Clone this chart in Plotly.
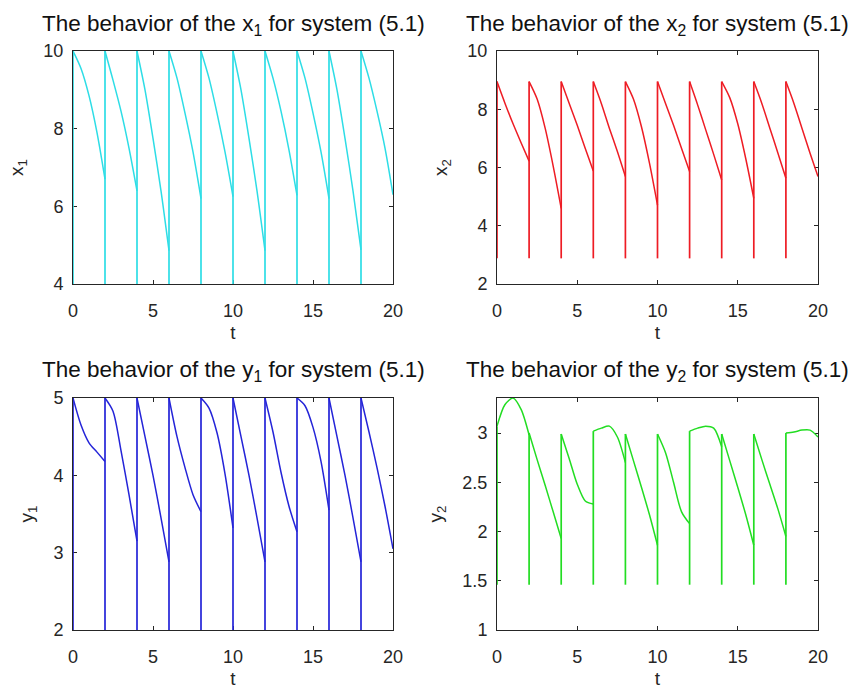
import plotly.graph_objects as go
from plotly.subplots import make_subplots

# ---- data ----
impulse_t = [0, 2, 4, 6, 8, 10, 12, 14, 16, 18]
phase = [0.0, 0.5, 1.0, 1.5, 2.0]

x_ticks = [0, 5, 10, 15, 20]

x1_low = 4.0
x1_seg = [
    [10, 9.55, 8.85, 7.9, 6.7],
    [10, 9.25, 8.45, 7.5, 6.4],
    [10, 9.0, 7.75, 6.4, 4.86],
    [10, 9.3, 8.4, 7.4, 6.2],
    [10, 9.3, 8.4, 7.4, 6.25],
    [10, 9.0, 7.75, 6.4, 4.86],
    [10, 9.3, 8.45, 7.45, 6.28],
    [10, 9.3, 8.4, 7.4, 6.2],
    [10, 9.0, 7.75, 6.4, 4.88],
    [10, 9.3, 8.45, 7.5, 6.3],
]

x2_low = 2.88
x2_seg = [
    [8.95, 8.2, 7.5, 6.85, 6.22],
    [8.95, 8.35, 7.35, 6.05, 4.6],
    [8.95, 8.2, 7.45, 6.65, 5.88],
    [8.95, 8.2, 7.35, 6.55, 5.69],
    [8.95, 8.35, 7.4, 6.15, 4.71],
    [8.95, 8.2, 7.45, 6.65, 5.86],
    [8.95, 8.15, 7.3, 6.45, 5.57],
    [8.95, 8.4, 7.5, 6.3, 4.94],
    [8.95, 8.2, 7.35, 6.5, 5.63],
    [8.95, 8.2, 7.35, 6.5, 5.69],
]

y1_low = 2.0
y1_seg = [
    [5, 4.65, 4.42, 4.3, 4.18],
    [5, 4.83, 4.32, 3.75, 3.15],
    [5, 4.5, 4.0, 3.45, 2.88],
    [5, 4.5, 4.1, 3.75, 3.53],
    [5, 4.87, 4.55, 4.02, 3.32],
    [5, 4.5, 4.0, 3.45, 2.88],
    [5, 4.56, 4.04, 3.6, 3.27],
    [5, 4.9, 4.62, 4.18, 3.55],
    [5, 4.5, 4.0, 3.45, 2.88],
    [5, 4.56, 4.1, 3.6, 3.05],
]

y2_low = 1.46
y2_seg = [
    [3.07, 3.29, 3.355, 3.24, 2.98],
    [3.0, 2.73, 2.47, 2.2, 1.93],
    [2.99, 2.74, 2.48, 2.31, 2.28],
    [3.02, 3.05, 3.07, 2.96, 2.70],
    [2.99, 2.72, 2.45, 2.17, 1.86],
    [2.99, 2.8, 2.5, 2.2, 2.08],
    [3.02, 3.05, 3.07, 3.05, 2.86],
    [2.99, 2.72, 2.45, 2.17, 1.86],
    [2.99, 2.73, 2.48, 2.23, 1.95],
    [3.0, 3.01, 3.03, 3.03, 2.96],
]

panels = [
    dict(seg=x1_seg, low=x1_low, color="#2ddde6", row=1, col=1, name="x", sub="1",
         yrange=[4, 10], yticks=[4, 6, 8, 10]),
    dict(seg=x2_seg, low=x2_low, color="#ee1c24", row=1, col=2, name="x", sub="2",
         yrange=[2, 10], yticks=[2, 4, 6, 8, 10]),
    dict(seg=y1_seg, low=y1_low, color="#2424d8", row=2, col=1, name="y", sub="1",
         yrange=[2, 5], yticks=[2, 3, 4, 5]),
    dict(seg=y2_seg, low=y2_low, color="#22dd22", row=2, col=2, name="y", sub="2",
         yrange=[1, 3.356], yticks=[1, 1.5, 2, 2.5, 3]),
]

FONT = "Liberation Sans, Arial, Helvetica, sans-serif"
TXT = "#262626"

fig = make_subplots(rows=2, cols=2, horizontal_spacing=0.1, vertical_spacing=0.1)

for p in panels:
    ct, cv, jt, jv = [], [], [], []
    for k, t0 in enumerate(impulse_t):
        for ph, v in zip(phase, p["seg"][k]):
            ct.append(t0 + ph)
            cv.append(v)
        ct.append(None)
        cv.append(None)
        jt += [t0, t0, None]
        jv += [p["low"], p["seg"][k][0], None]
    fig.add_trace(go.Scatter(x=ct, y=cv, mode="lines",
                             line=dict(color=p["color"], width=1.5, shape="spline", smoothing=0.8),
                             showlegend=False, hoverinfo="skip"),
                  row=p["row"], col=p["col"])
    fig.add_trace(go.Scatter(x=jt, y=jv, mode="lines",
                             line=dict(color=p["color"], width=1.7),
                             showlegend=False, hoverinfo="skip"),
                  row=p["row"], col=p["col"])

W, H = 853, 691
xdom = {1: [73 / W, 393 / W], 2: [497 / W, 818 / W]}
ydom = {1: [1 - 284 / H, 1 - 51 / H], 2: [1 - 630 / H, 1 - 398 / H]}

axcommon = dict(showline=True, mirror="ticks", linecolor=TXT, linewidth=1,
                ticks="inside", ticklen=4, tickcolor=TXT, tickwidth=1,
                showgrid=False, zeroline=False, automargin=False, layer="below traces",
                tickfont=dict(family=FONT, size=18, color=TXT))

annotations = []
for i, p in enumerate(panels):
    r, c = p["row"], p["col"]
    xa = "xaxis" if i == 0 else f"xaxis{i+1}"
    ya = "yaxis" if i == 0 else f"yaxis{i+1}"
    fig.layout[xa].update(domain=xdom[c], range=[0, 20], tickvals=x_ticks,
                          ticklabelstandoff=10,
                          title=dict(text="t", font=dict(family=FONT, size=19, color=TXT), standoff=6),
                          **axcommon)
    fig.layout[ya].update(domain=ydom[r], range=p["yrange"], tickvals=p["yticks"],
                          ticklabelstandoff=5,
                          title=dict(text=f"{p['name']}<sub>{p['sub']}</sub>",
                                     font=dict(family=FONT, size=19, color=TXT), standoff=14),
                          **axcommon)
    cx = (xdom[c][0] + xdom[c][1]) / 2
    ty = 1 - (25 if r == 1 else 371) / H
    annotations.append(dict(text=f"The behavior of the {p['name']}<sub>{p['sub']}</sub> for system (5.1)",
                            x=cx, y=ty, xref="paper", yref="paper", xanchor="center", yanchor="middle",
                            showarrow=False, font=dict(family=FONT, size=22.5, color="#111111")))

fig.update_layout(width=W, height=H, margin=dict(l=0, r=0, t=0, b=0),
                  paper_bgcolor="white", plot_bgcolor="white", annotations=annotations)

fig.write_html("out.html", config={"displayModeBar": False},
               post_script="document.body.style.margin='0';document.body.style.padding='0';")
